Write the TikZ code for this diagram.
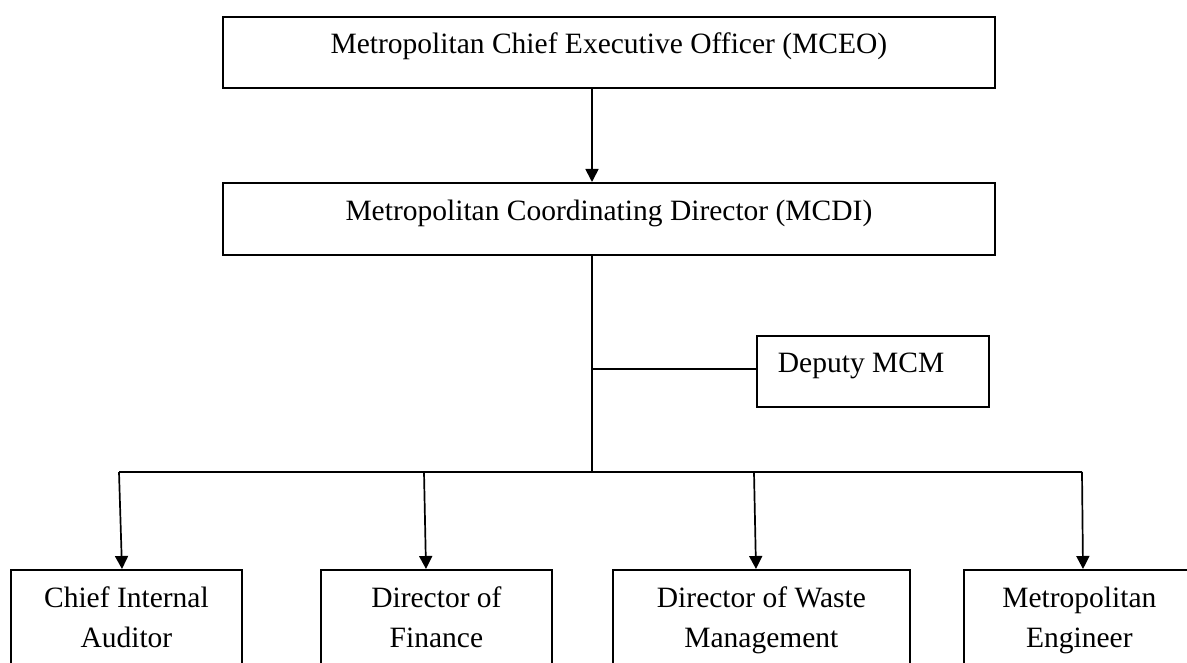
\documentclass[tikz,border=0pt]{standalone}
\usepackage{fontspec}
\setmainfont{Liberation Serif}
\usetikzlibrary{arrows.meta}
\tikzset{
  orgbox/.style={draw, line width=1.8pt, rectangle, anchor=north west, inner xsep=0pt, inner ysep=0pt, text height=37pt, text depth=34pt},
  botbox/.style={orgbox, text height=38pt, text depth=112pt},
  link/.style={line width=1.7pt},
  arr/.style={link, -{Triangle[length=13pt,width=13pt]}}
}
\begin{document}
\begin{tikzpicture}[x=1pt, y=-1pt, font=\fontsize{29.5}{40}\selectfont]
\useasboundingbox (0,0) rectangle (1187,663);
\fill[white] (0,0) rectangle (1187,663);
\clip (0,0) rectangle (1187,663);

% boxes
\node[orgbox, minimum width=772pt] (mceo) at (222,16) {Metropolitan Chief Executive Officer (MCEO)};
\node[orgbox, minimum width=772pt, text height=38pt] (mcdi) at (222,182) {Metropolitan Coordinating Director (MCDI)};
\node[orgbox, inner xsep=21pt] (dep) at (756,335) {\makebox[190pt][l]{Deputy MCM}};
\node[botbox, minimum width=231pt] (cia) at (10,569) {\begin{tabular}[t]{@{}c@{}}Chief Internal\\Auditor\end{tabular}};
\node[botbox, minimum width=231pt] (dof) at (320,569) {\begin{tabular}[t]{@{}c@{}}Director of\\Finance\end{tabular}};
\node[botbox, minimum width=297pt] (dwm) at (612,569) {\begin{tabular}[t]{@{}c@{}}Director of Waste\\Management\end{tabular}};
\node[botbox, minimum width=231pt] (me) at (963,569) {\begin{tabular}[t]{@{}c@{}}Metropolitan\\Engineer\end{tabular}};

% connector points
\coordinate (sp) at (592,472);
\coordinate (t1) at (119,472);
\coordinate (t2) at (424,472);
\coordinate (t3) at (754,472);
\coordinate (t4) at (1082,472);

% connectors
\draw[arr] (mceo.south -| sp) -- (mcdi.north -| sp);
\draw[link] (mcdi.south -| sp) -- (sp);
\draw[link] ([yshift=2.5pt]dep.west -| sp) -- ([yshift=2.5pt]dep.west);
\draw[link] (t1) -- (t4);
\draw[arr] (t1) -- (cia.north -| 122,0);
\draw[arr] (t2) -- (dof.north -| 426,0);
\draw[arr] (t3) -- (dwm.north -| 756,0);
\draw[arr] (t4) -- (me.north -| 1083,0);
\end{tikzpicture}
\end{document}
